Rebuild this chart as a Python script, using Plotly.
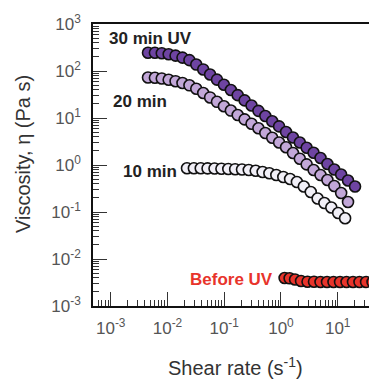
import plotly.graph_objects as go

# ---- data ----
shear_30 = [0.00454, 0.00601, 0.00794, 0.0105, 0.0139, 0.0184, 0.0244, 0.0322, 0.0427, 0.0564,
            0.0746, 0.0989, 0.131, 0.173, 0.229, 0.303, 0.401, 0.530, 0.702, 0.927,
            1.23, 1.63, 2.15, 2.84, 3.76, 4.98, 6.59, 8.71, 11.5, 15.2, 20.2]
visc_30 = [245, 244, 238, 227, 212, 193, 170, 137, 108, 84.3,
           65.6, 50.9, 39.4, 30.6, 23.7, 18.4, 14.2, 11.0, 8.55, 6.63,
           5.04, 3.85, 3.01, 2.33, 1.82, 1.41, 1.05, 0.802, 0.628, 0.468, 0.349]

shear_20 = [0.00454, 0.00601, 0.00794, 0.0105, 0.0139, 0.0184, 0.0244, 0.0322, 0.0427, 0.0564,
            0.0746, 0.0989, 0.131, 0.173, 0.229, 0.303, 0.401, 0.530, 0.702, 0.927,
            1.23, 1.63, 2.15, 2.84, 3.76, 4.98, 6.59, 8.71, 11.5, 15.2]
visc_20 = [72.7, 71.7, 69.2, 65.3, 60.7, 55.6, 49.6, 41.8, 34.0, 27.4,
           22.1, 17.8, 14.4, 11.6, 9.33, 7.53, 6.04, 4.80, 3.81, 3.01,
           2.38, 1.80, 1.36, 1.03, 0.783, 0.613, 0.480, 0.357, 0.254, 0.163]

shear_10 = [0.0221, 0.0292, 0.0386, 0.0509, 0.0675, 0.0893, 0.118, 0.156, 0.206, 0.271,
            0.359, 0.475, 0.625, 0.828, 1.10, 1.45, 1.91, 2.53, 3.35, 4.43,
            5.83, 7.72, 10.2, 13.5]
visc_10 = [0.851, 0.851, 0.851, 0.847, 0.843, 0.830, 0.822, 0.815, 0.802, 0.783,
           0.753, 0.710, 0.666, 0.612, 0.556, 0.504, 0.435, 0.349, 0.267, 0.194,
           0.155, 0.125, 0.0953, 0.0735]

shear_0 = [1.16, 1.42, 1.77, 2.26, 2.94, 3.82, 4.98, 6.48, 8.43, 11.0,
           14.3, 18.6, 24.2, 31.6, 41.1, 53.5]
visc_0 = [0.00394, 0.00388, 0.00366, 0.00340, 0.00329, 0.00329, 0.00324, 0.00324, 0.00324, 0.00324,
          0.00324, 0.00324, 0.00324, 0.00324, 0.00324, 0.00324]

labels = ["30 min UV", "20 min", "10 min", "Before UV"]
colors = ["#6E44A2", "#C2A7D8", "#F1EFF7", "#E8342B"]
label_colors = ["#222222", "#222222", "#222222", "#E8342B"]

major_vals = [1e-3, 1e-2, 1e-1, 1e0, 1e1, 1e2, 1e3]
major_text = ["10<sup>-3</sup>", "10<sup>-2</sup>", "10<sup>-1</sup>", "10<sup>0</sup>",
              "10<sup>1</sup>", "10<sup>2</sup>", "10<sup>3</sup>"]
minor_vals = [k * 10.0 ** e for e in range(-4, 3) for k in range(2, 10)]

FONT = "Liberation Sans, Arial, sans-serif"

fig = go.Figure()
series = [(shear_0, visc_0), (shear_10, visc_10), (shear_20, visc_20), (shear_30, visc_30)]
order = [3, 2, 1, 0]
for (xs, ys), idx in zip(series, order):
    fig.add_trace(go.Scatter(
        x=xs, y=ys, mode="markers", name=labels[idx],
        marker=dict(size=11, color=colors[idx], line=dict(color="#111111", width=1.6)),
        showlegend=False))

axis_common = dict(
    type="log", showgrid=False, zeroline=False,
    showline=True, linecolor="#111111", linewidth=1.5,
    ticks="inside", ticklen=14, tickwidth=1.2, tickcolor="#333333",
    tickvals=major_vals, ticktext=major_text,
    tickfont=dict(family=FONT, size=17, color="#555555"),
    minor=dict(ticks="inside", ticklen=6, tickwidth=1, tickcolor="#333333",
               tickvals=minor_vals, showgrid=False),
)

fig.update_layout(
    width=369, height=381,
    margin=dict(l=93, r=0, t=24, b=75),
    paper_bgcolor="white", plot_bgcolor="white",
    xaxis=dict(range=[-3.312, 1.5515], mirror=True, ticklabelstandoff=6, **axis_common),
    yaxis=dict(range=[-3, 3], ticklabelstandoff=7, **axis_common),
    font=dict(family=FONT),
)

# axis titles
fig.add_annotation(xref="paper", yref="paper", x=-0.2536, y=0.539, text="Viscosity, η (Pa s)",
                   xanchor="center", yanchor="middle",
                   textangle=-90, showarrow=False, font=dict(family=FONT, size=20, color="#333333"))
fig.add_annotation(xref="paper", yref="paper", x=0.5145, y=-0.215, text="Shear rate (s<sup>-1</sup>)",
                   xanchor="center", yanchor="middle",
                   showarrow=False, font=dict(family=FONT, size=20, color="#333333"))

# series labels
label_pos = [(0.210, 0.9486), (0.1721, 0.7252), (0.2083, 0.4770), (0.5018, 0.0922)]
for lab, (px, py), c in zip(labels, label_pos, label_colors):
    fig.add_annotation(xref="paper", yref="paper", x=px, y=py, text="<b>%s</b>" % lab,
                       xanchor="center", yanchor="middle",
                       showarrow=False, font=dict(family=FONT, size=17, color=c))

fig.write_html("out.html")
